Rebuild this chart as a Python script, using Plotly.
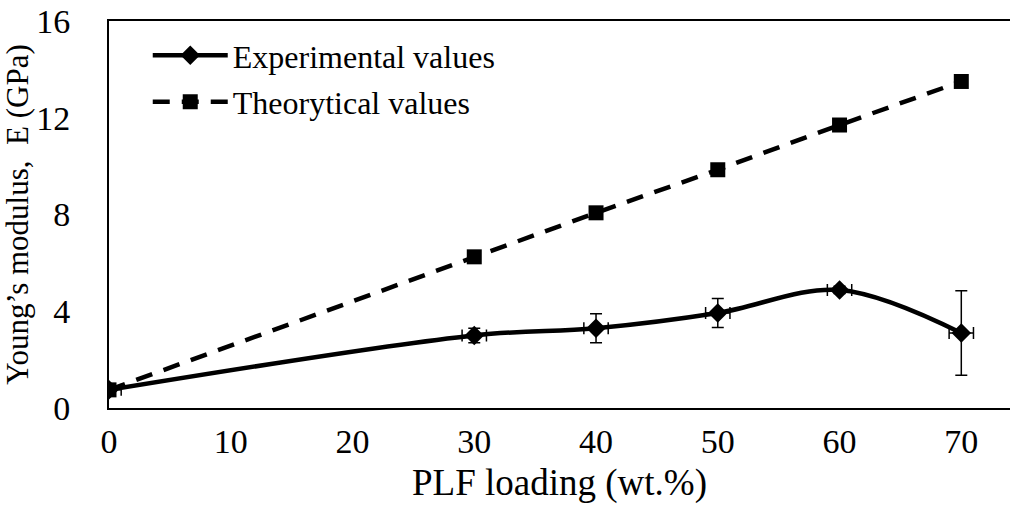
import plotly.graph_objects as go

loading = [0, 30, 40, 50, 60, 70]
experimental = [0.75, 3.0, 3.3, 3.93, 4.88, 3.1]
exp_err_y = [0.0, 0.3, 0.6, 0.6, 0.15, 1.75]
exp_err_x = [1.0, 1.0, 1.0, 1.0, 1.0, 1.0]
theoretical = [0.75, 6.25, 8.07, 9.85, 11.7, 13.5]

x_ticks = [0, 10, 20, 30, 40, 50, 60, 70]
y_ticks = [0, 4, 8, 12, 16]

font_family = "Liberation Serif"

fig = go.Figure()
fig.add_trace(go.Scatter(
    x=loading, y=experimental, name="Experimental values",
    mode="lines+markers", legendgroup="a",
    line=dict(color="black", width=4.5, shape="spline", smoothing=1.0),
    marker=dict(symbol="diamond", size=15, color="black"),
    error_y=dict(type="data", array=exp_err_y, visible=True, color="black", thickness=1.5, width=6),
    error_x=dict(type="data", array=exp_err_x, visible=True, color="black", thickness=1.5, width=6),
))
fig.add_trace(go.Scatter(
    x=loading, y=theoretical, name="Theorytical values",
    mode="lines+markers", legendgroup="b",
    line=dict(color="black", width=4.5, dash="17px,12px"),
    marker=dict(symbol="square", size=15, color="black"),
))

fig.update_layout(
    width=1015, height=508,
    margin=dict(l=109, r=5, t=21, b=100),
    paper_bgcolor="white", plot_bgcolor="white",
    font=dict(family=font_family, size=32, color="black"),
    showlegend=True,
    legend=dict(x=0.043, y=0.982, xanchor="left", yanchor="top",
                font=dict(size=32, family=font_family), bgcolor="rgba(0,0,0,0)",
                itemwidth=75, tracegroupgap=2),
    xaxis=dict(range=[0, 74], tickvals=x_ticks, showgrid=False, zeroline=False,
               showline=True, linecolor="black", linewidth=2, mirror=True,
               automargin=False,
               ticks="", tickfont=dict(size=34), ticklabelstandoff=2),
    yaxis=dict(range=[0, 16], tickvals=y_ticks, showgrid=False, zeroline=False,
               showline=True, linecolor="black", linewidth=2,
               automargin=False,
               ticks="", tickfont=dict(size=34), ticklabelstandoff=30,
               title=dict(text="Young’s modulus,  E (GPa)", font=dict(size=31), standoff=8)),
    annotations=[dict(text="PLF loading (wt.%)", xref="paper", yref="paper",
                      x=0.5, y=-0.194, xanchor="center", yanchor="middle",
                      showarrow=False, font=dict(size=37, family=font_family))],
)

fig.write_html("out.html", config={"displayModeBar": False},
               post_script="document.body.style.margin='0';document.body.style.padding='0';")
